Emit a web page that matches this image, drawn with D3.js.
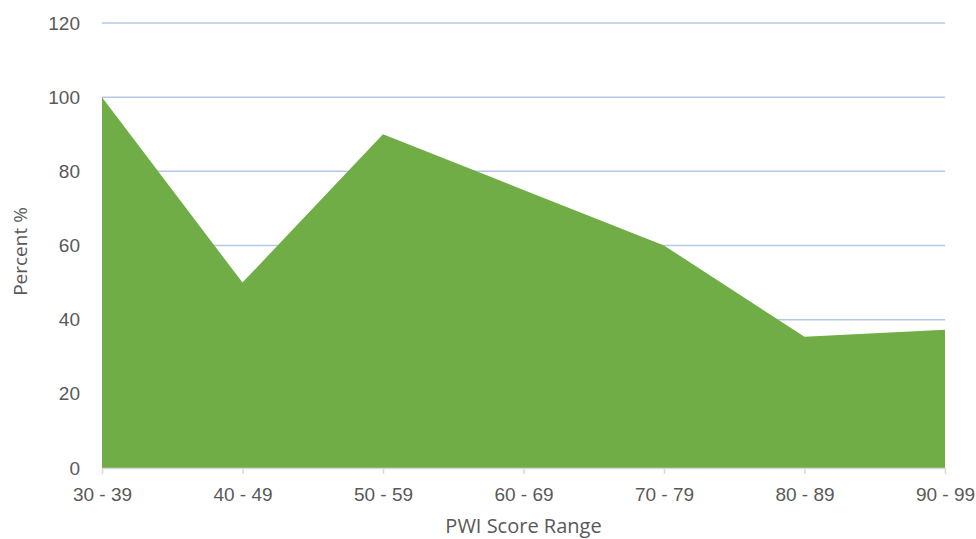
<!DOCTYPE html>
<html>
<head>
<meta charset="utf-8">
<script src="https://cdn.jsdelivr.net/npm/d3@7"></script>
<style>
  html, body { margin: 0; padding: 0; background: #fff; }
  svg { display: block; font-family: "Open Sans", "Liberation Sans", sans-serif; }
</style>
</head>
<body>
<svg id="chart" width="976" height="539"></svg>
<script>
// PWI score ranges and share of respondents (%)
const categories = ["30 - 39", "40 - 49", "50 - 59", "60 - 69", "70 - 79", "80 - 89", "90 - 99"];
const percents = [100, 50, 90, 75, 60, 35.4, 37.3];
const yTicks = [0, 20, 40, 60, 80, 100, 120];

const svg = d3.select("#chart");
const margin = { left: 102, right: 31, top: 23, bottom: 71 };
const W = 976, H = 539;

const x = d3.scalePoint().domain(categories).range([margin.left, W - margin.right]);
const y = d3.scaleLinear().domain([0, 120]).range([H - margin.bottom, margin.top]);

const textColor = "#595959";

// horizontal gridlines
svg.append("g")
  .selectAll("line")
  .data(yTicks.filter(d => d > 0))
  .join("line")
  .attr("x1", margin.left).attr("x2", W - margin.right)
  .attr("y1", d => y(d)).attr("y2", d => y(d))
  .attr("stroke", "#b4c7e7").attr("stroke-width", 1.5);

// filled area
const area = d3.area()
  .x((d, i) => x(categories[i]))
  .y0(y(0))
  .y1(d => y(d));

svg.append("path")
  .datum(percents)
  .attr("d", area)
  .attr("fill", "#70ad47");

// y axis labels
const yAxis = d3.axisLeft(y).tickValues(yTicks).tickSize(0).tickPadding(22);
const gy = svg.append("g").attr("transform", `translate(${margin.left},0)`).call(yAxis);
gy.select(".domain").remove();
gy.selectAll("text").attr("fill", textColor).style("font-size", "19px");

// x axis
const xAxis = d3.axisBottom(x).tickSize(6).tickPadding(14).tickSizeOuter(0);
const gx = svg.append("g").attr("transform", `translate(0,${y(0)})`).call(xAxis);
gx.select(".domain").attr("stroke", "#d9d9d9").attr("stroke-width", 1.5);
gx.selectAll(".tick line").attr("stroke", "#d9d9d9").attr("stroke-width", 1.5);
gx.selectAll("text").attr("fill", textColor).style("font-size", "19px");

// axis titles
svg.append("text")
  .attr("x", (margin.left + W - margin.right) / 2)
  .attr("y", 526)
  .attr("dy", "0.35em")
  .attr("text-anchor", "middle")
  .attr("fill", textColor)
  .style("font-size", "20px")
  .text("PWI Score Range");

svg.append("text")
  .attr("transform", `translate(20,${(margin.top + H - margin.bottom) / 2 + 6}) rotate(-90)`)
  .attr("dy", "0.35em")
  .attr("text-anchor", "middle")
  .attr("fill", textColor)
  .style("font-size", "19px")
  .text("Percent %");
</script>
</body>
</html>
